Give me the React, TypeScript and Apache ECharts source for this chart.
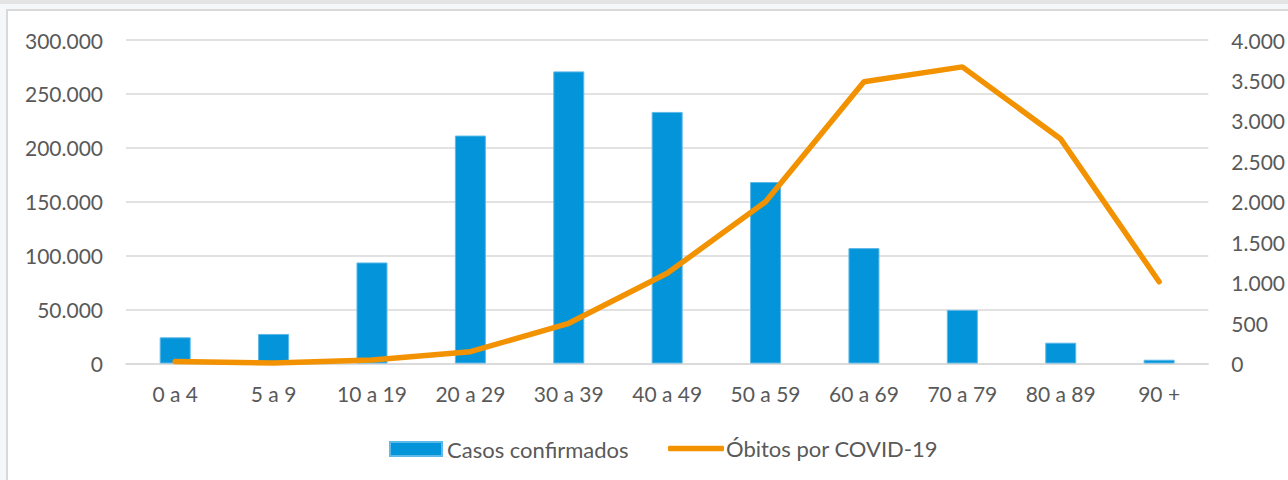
import React, { useEffect, useRef } from "react";
import * as echarts from "echarts";

const categories = ["0 a 4", "5 a 9", "10 a 19", "20 a 29", "30 a 39", "40 a 49", "50 a 59", "60 a 69", "70 a 79", "80 a 89", "90 +"];
const casosConfirmados = [24300, 27400, 93700, 211400, 270900, 233300, 168300, 107000, 49700, 19300, 3500];
const obitosCovid = [25, 5, 43, 146, 497, 1115, 2000, 3483, 3668, 2775, 1011];
const seriesNames = ["Casos confirmados", "Óbitos por COVID-19"];
const leftAxis = { min: 0, max: 300000, interval: 50000 };
const rightAxis = { min: 0, max: 4000, interval: 500 };

const fmt = (v: number) => String(Math.round(v)).replace(/\B(?=(\d{3})+(?!\d))/g, ".");

const FONT = "Lato, 'Open Sans', sans-serif";
const TEXT = "#595959";
const GRID = "#D9D9D9";
const BAR = "#0394D9";
const LINE = "#F39200";

export default function App() {
  const ref = useRef<HTMLDivElement>(null);
  useEffect(() => {
    if (!ref.current) return;
    const chart = echarts.init(ref.current, undefined, { renderer: "svg" });
    const legendText = { color: TEXT, fontSize: 22, fontFamily: FONT, lineHeight: 26 };
    chart.setOption({
      animation: false,
      backgroundColor: "#F6F7F9",
      textStyle: { fontFamily: FONT },
      graphic: [
        { type: "rect", z: -10, shape: { x: 0, y: 0, width: 1288, height: 4 }, style: { fill: "#E4E4E4" } },
        { type: "rect", z: -10, shape: { x: 7, y: 10, width: 1300, height: 500 }, style: { fill: "#FFFFFF", stroke: "#D9D9D9", lineWidth: 2 } },
      ],
      grid: { left: 126, right: 79, top: 40, bottom: 116.5, containLabel: false },
      legend: [
        {
          left: 389,
          top: 436,
          padding: 0,
          itemWidth: 52,
          itemHeight: 14,
          textStyle: legendText,
          data: [{ name: seriesNames[0], icon: "rect" }],
        },
        {
          left: 668,
          top: 435.5,
          padding: 0,
          itemWidth: 56,
          itemHeight: 5.5,
          textStyle: { ...legendText, padding: [0, 0, 0, -3] },
          data: [{ name: seriesNames[1], icon: "roundRect", itemStyle: { color: LINE } }],
        },
      ],
      xAxis: {
        type: "category",
        data: categories,
        axisTick: { show: false },
        axisLine: { lineStyle: { color: GRID, width: 1.5 } },
        axisLabel: { color: TEXT, fontSize: 21, margin: 19, fontFamily: FONT },
      },
      yAxis: [
        {
          type: "value",
          ...leftAxis,
          axisLabel: { color: TEXT, fontSize: 21, margin: 23, formatter: fmt, fontFamily: FONT },
          axisLine: { show: false },
          axisTick: { show: false },
          splitLine: { lineStyle: { color: GRID, width: 1.5 } },
        },
        {
          type: "value",
          position: "right",
          ...rightAxis,
          axisLabel: { color: TEXT, fontSize: 21, margin: 23, formatter: fmt, fontFamily: FONT },
          axisLine: { show: false },
          axisTick: { show: false },
          splitLine: { show: false },
        },
      ],
      series: [
        {
          name: seriesNames[0],
          type: "bar",
          data: casosConfirmados,
          barWidth: 31,
          itemStyle: { color: BAR, borderColor: "#5DB9E8", borderWidth: 1 },
        },
        {
          name: seriesNames[1],
          type: "line",
          yAxisIndex: 1,
          data: obitosCovid,
          symbol: "none",
          lineStyle: { color: LINE, width: 5.5, cap: "round" },
          itemStyle: { color: LINE },
        },
      ],
    });
    return () => chart.dispose();
  }, []);
  return <div ref={ref} style={{ position: "fixed", left: 0, top: 0, width: 1288, height: 480 }} />;
}
